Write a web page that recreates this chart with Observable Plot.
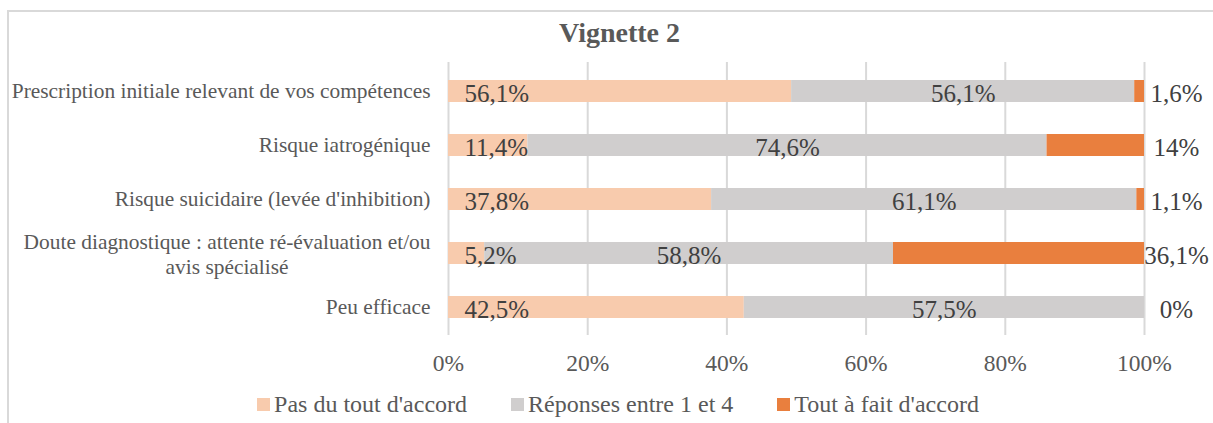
<!DOCTYPE html>
<html>
<head>
<meta charset="utf-8">
<script src="https://cdn.jsdelivr.net/npm/d3@7"></script>
<script src="https://cdn.jsdelivr.net/npm/@observablehq/plot@0.6"></script>
<style>
  html, body { margin: 0; padding: 0; background: #fff; }
  #wrap { position: relative; width: 1213px; height: 423px; overflow: hidden; font-family: "Liberation Serif", "Times New Roman", serif; color: #595959; }
  #frame { position: absolute; left: 7px; top: 10px; width: 1300px; height: 500px; border-left: 2px solid #d9d9d9; border-top: 2px solid #d9d9d9; }
  #title { position: absolute; left: 0; top: 17px; width: 1239px; text-align: center; font-size: 28px; font-weight: bold; color: #595959; font-family: "Liberation Serif", serif; }
  #chart { position: absolute; left: 0; top: 50px; }
  #legend { position: absolute; left: 0; top: 391px; width: 1236px; display: flex; justify-content: center; gap: 44px; font-size: 24px; color: #595959; font-family: "Liberation Serif", serif; }
  #legend .item { display: flex; align-items: center; }
  #legend .sw { width: 13px; height: 13px; margin-right: 4px; display: inline-block; }
</style>
</head>
<body>
<div id="wrap">
  <div id="frame"></div>
  <div id="title">Vignette 2</div>
  <div id="chart"></div>
  <div id="legend"></div>
</div>
<script>
const categories = [
  "Prescription initiale relevant de vos compétences",
  "Risque iatrogénique",
  "Risque suicidaire (levée d'inhibition)",
  "Doute diagnostique : attente ré-évaluation et/ou\navis spécialisé",
  "Peu efficace"
];
const seriesNames = ["Pas du tout d'accord", "Réponses entre 1 et 4", "Tout à fait d'accord"];
const pasDuTout = [56.1, 11.4, 37.8, 5.2, 42.5];
const entre1et4 = [56.1, 74.6, 61.1, 58.8, 57.5];
const toutAFait = [1.6, 14, 1.1, 36.1, 0];
const labelsPas = ["56,1%", "11,4%", "37,8%", "5,2%", "42,5%"];
const labelsEntre = ["56,1%", "74,6%", "61,1%", "58,8%", "57,5%"];
const labelsTout = ["1,6%", "14%", "1,1%", "36,1%", "0%"];
const colors = ["#F8CBAD", "#D0CECE", "#E97F3E"];
const xTicks = [0, 0.2, 0.4, 0.6, 0.8, 1];
const xTickLabels = ["0%", "20%", "40%", "60%", "80%", "100%"];

const seriesValues = [pasDuTout, entre1et4, toutAFait];
const seriesLabels = [labelsPas, labelsEntre, labelsTout];
const data = [];
seriesNames.forEach((s, si) => {
  categories.forEach((c, ci) => {
    data.push({cat: c, series: s, value: seriesValues[si][ci], label: seriesLabels[si][ci], si});
  });
});

const font = "Liberation Serif, Times New Roman, serif";
const catSize = 21.4;
const canvas = document.createElement("canvas");
const ctx = canvas.getContext("2d");
ctx.font = catSize + "px 'Liberation Serif'";
const lineW = t => Math.max(...t.split("\n").map(l => ctx.measureText(l).width));

const single = categories.filter(c => !c.includes("\n"));
const multi = categories.filter(c => c.includes("\n"));

const stackOpts = {x: "value", y: "cat", z: "series", order: seriesNames, offset: "normalize"};
const lab = {fontSize: 25, fill: "#404040", fontFamily: font, dy: 2};

const marks = [
  Plot.ruleX(xTicks, {stroke: "#d9d9d9", strokeWidth: 2}),
  Plot.barX(data, Plot.stackX({...stackOpts, fill: "series"})),
  // first series: inside base
  Plot.text(data.filter(d => d.si === 0), {x: 0, y: "cat", text: "label", textAnchor: "start", dx: 16, ...lab}),
  // middle series: centered in segment
  Plot.text(data, Plot.stackX({...stackOpts, text: d => d.si === 1 ? d.label : "", ...lab})),
  // last series: outside end
  Plot.text(data.filter(d => d.si === 2), {x: 1, y: "cat", text: "label", textAnchor: "middle", dx: 32, ...lab}),
  // category labels
  Plot.text(single, {x: 0, y: d => d, text: d => d, textAnchor: "end", dx: -18, fontSize: catSize, fill: "#595959", fontFamily: font}),
  ...multi.map(c => Plot.text([c], {x: 0, y: d => d, text: d => d, textAnchor: "middle", dx: -18 - lineW(c) / 2, fontSize: catSize, fill: "#595959", fontFamily: font, lineHeight: 1.17})),
  Plot.axisX({ticks: xTicks, tickFormat: d => xTickLabels[xTicks.indexOf(d)], tickSize: 0, tickPadding: 19, fontSize: 23.5, fill: "#595959", fontFamily: font, label: null})
];

const chart = Plot.plot({
  width: 1213,
  height: 330,
  marginLeft: 448,
  marginRight: 69,
  marginTop: 12,
  marginBottom: 45,
  style: {fontFamily: font, background: "transparent", overflow: "visible"},
  x: {domain: [0, 1], axis: null},
  y: {domain: categories, paddingInner: 0.6, paddingOuter: 0.3, axis: null},
  color: {domain: seriesNames, range: colors},
  marks
});
document.getElementById("chart").appendChild(chart);

const legend = document.getElementById("legend");
seriesNames.forEach((s, i) => {
  const item = document.createElement("div");
  item.className = "item";
  const sw = document.createElement("span");
  sw.className = "sw";
  sw.style.background = colors[i];
  const t = document.createElement("span");
  t.textContent = s;
  item.appendChild(sw);
  item.appendChild(t);
  legend.appendChild(item);
});
</script>
</body>
</html>
